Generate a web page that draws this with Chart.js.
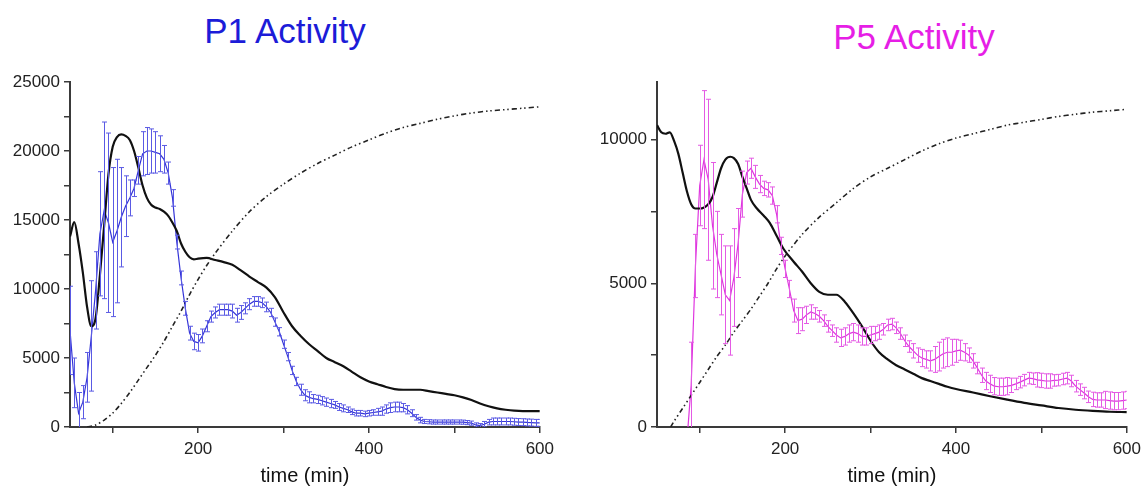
<!DOCTYPE html>
<html>
<head>
<meta charset="utf-8">
<script src="https://cdn.jsdelivr.net/npm/chart.js@4"></script>
<style>
  html, body { margin: 0; padding: 0; background: #fff; }
  body { width: 1147px; height: 488px; position: relative; overflow: hidden; font-family: "Liberation Sans", Arial, sans-serif; }
  .box { position: absolute; top: 0; height: 488px; }
  .title { position: absolute; font-size: 35px; line-height: 35px; white-space: nowrap; transform: translateX(-50%); }
</style>
</head>
<body>
<div class="title" style="left:285px; top:13px; color:#1c1cd8">P1 Activity</div>
<div class="title" style="left:914px; top:19px; color:#e61ee6">P5 Activity</div>
<div class="box" style="left:0; width:560px"><canvas id="p1"></canvas></div>
<div class="box" style="left:580px; width:567px"><canvas id="p5"></canvas></div>
<script>
// ---- tick values ----
const xTicks = [100, 200, 300, 400, 500, 600];
const xLabels = [200, 400, 600];
const p1YTicks = [0, 2500, 5000, 7500, 10000, 12500, 15000, 17500, 20000, 22500, 25000];
const p5YTicks = [0, 2500, 5000, 7500, 10000];
const yLabels = [0, 5000, 10000, 15000, 20000, 25000];

// ---- P1 panel data ----
const p1Time = [50,55,60,65,70,75,80,85,90,95,100,105,110,115,120,125,130,135,140,145,150,155,160,165,170,175,180,185,190,195,
  200,205,210,215,220,225,230,235,240,245,250,255,260,265,270,275,280,285,290,295,300,305,310,315,320,325,330,335,340,345,
  350,355,360,365,370,375,380,385,390,395,400,405,410,415,420,425,430,435,440,445,450,455,460,465,470,475,480,485,490,495,
  500,505,510,515,520,525,530,535,540,545,550,555,560,565,570,575,580,585,590,595,600];
const p1Mean = [7000,3200,1000,1800,3600,6600,9900,14000,15700,14800,13400,14200,15200,16000,16600,17300,18600,19800,20000,20000,19900,19800,19400,18400,16600,13400,10800,8600,6800,6200,
  6100,6600,7300,8000,8300,8500,8500,8500,8400,8100,8300,8600,8900,9100,9100,9000,8700,8300,7600,6900,6000,5100,4100,3300,2700,2300,2150,2050,2000,1900,
  1800,1700,1600,1450,1350,1250,1100,1000,1000,950,1000,1050,1100,1150,1300,1400,1450,1450,1400,1250,1000,700,500,400,380,360,360,360,360,360,
  360,360,350,320,280,150,100,200,350,400,400,400,400,400,380,360,350,330,320,300,300];
const p1Err = [3200,1800,1500,1200,1800,4000,2800,4500,6400,6500,5400,5200,3600,2200,1300,600,1000,1600,1700,1600,1500,1300,1000,800,600,500,500,500,500,600,
  600,500,400,400,400,400,400,400,500,500,500,400,400,350,350,350,350,300,300,300,300,300,300,300,400,400,400,300,300,300,
  300,300,250,250,250,200,200,200,200,200,200,200,250,300,300,350,350,350,300,300,250,200,200,150,150,150,150,150,150,150,
  150,150,150,150,150,150,150,200,200,250,250,250,250,250,250,250,250,250,250,250,250];
const p1ModelTime = [50,55,60,65,70,75,80,85,90,95,100,105,110,115,120,125,130,135,140,145,150,155,160,165,170,175,180,185,190,195,
  200,210,220,230,240,250,260,270,280,290,300,310,320,330,340,350,360,370,380,390,400,410,420,430,440,450,460,470,480,490,
  500,510,520,530,540,550,560,570,580,590,600];
const p1Model = [13800,14850,13300,11200,8700,7300,7900,11000,14600,18300,20300,21000,21200,21100,20800,20000,18800,17500,16600,16100,15900,15800,15600,15300,14800,14200,13300,12700,12300,12150,
  12200,12250,12100,11950,11750,11350,10900,10500,10100,9400,8300,7300,6600,6000,5500,5000,4700,4400,4000,3600,3300,3100,2900,2750,2700,2700,2700,2600,2500,2400,
  2300,2150,1950,1700,1500,1350,1250,1180,1150,1150,1150];
const p1CumTime = [70,80,90,100,110,120,130,140,150,160,170,180,190,200,210,220,240,260,280,300,320,340,360,380,400,420,440,460,480,500,520,540,560,580,600];
const p1Cum = [0,150,500,1000,1700,2500,3400,4300,5200,6200,7300,8400,9600,10700,11700,12600,14200,15600,16700,17600,18400,19100,19700,20300,20800,21300,21700,22000,22300,22550,22750,22900,23000,23100,23200];

// ---- P5 panel data ----
const p5Time = [85,90,95,100,105,110,115,120,125,130,135,140,145,150,155,160,165,170,175,180,185,190,195,
  200,205,210,215,220,225,230,235,240,245,250,255,260,265,270,275,280,285,290,295,300,305,310,315,320,325,330,335,340,345,
  350,355,360,365,370,375,380,385,390,395,400,405,410,415,420,425,430,435,440,445,450,455,460,465,470,475,480,485,490,495,
  500,505,510,515,520,525,530,535,540,545,550,555,560,565,570,575,580,585,590,595,600];
const p5Mean = [-500,1450,5600,8400,9300,8600,7000,6000,5300,4600,4400,5200,6400,8100,8850,9000,8700,8450,8300,8250,8050,7400,6300,
  5500,4800,4050,3700,3750,3900,4000,3950,3850,3700,3500,3350,3200,3100,3150,3250,3300,3250,3150,3150,3200,3250,3300,3400,3550,3580,3450,3250,3000,2800,
  2650,2500,2400,2350,2300,2350,2450,2550,2600,2600,2650,2670,2600,2500,2300,2050,1800,1600,1500,1420,1400,1400,1420,1450,1500,1560,1630,1700,1680,1640,
  1620,1600,1600,1620,1630,1670,1700,1600,1420,1300,1180,1050,960,940,940,940,920,900,900,920,940];
const p5Err = [400,1500,1100,1400,2400,2800,2200,1500,1400,1700,1900,1700,1200,800,400,350,400,300,250,250,300,300,300,
  300,300,400,450,400,300,250,200,200,200,200,200,250,300,300,300,300,300,300,300,300,250,250,200,200,200,200,200,200,200,
  250,250,300,300,350,450,500,500,500,450,400,350,300,250,250,200,250,300,300,300,300,300,300,250,200,200,200,200,200,250,
  250,250,250,200,200,200,200,200,200,200,200,200,250,250,250,300,300,300,300,300,300];
const p5ModelTime = [50,55,60,65,70,75,80,85,90,95,100,110,115,120,125,130,136,140,145,150,155,160,167,175,182,190,198,
  210,220,230,240,250,260,270,280,290,300,310,320,330,340,350,360,370,380,390,400,420,440,460,480,500,520,540,560,580,600];
const p5Model = [10500,10250,10200,10250,9950,9500,8850,8200,7750,7600,7600,7750,8000,8500,9000,9300,9400,9350,9150,8700,8300,7900,7600,7350,7100,6650,6200,
  5750,5400,5000,4700,4600,4600,4350,3950,3500,3000,2600,2350,2150,2000,1850,1700,1600,1500,1400,1320,1200,1070,950,840,750,660,600,560,530,520];
const p5CumTime = [66,70,80,90,100,110,120,130,140,150,160,170,180,190,200,220,240,260,280,300,320,340,360,380,400,420,440,460,480,500,520,540,560,580,600];
const p5Cum = [0,200,650,1100,1550,2000,2450,2850,3300,3700,4100,4550,5000,5500,5950,6700,7300,7800,8300,8700,9000,9300,9600,9850,10050,10200,10350,10500,10600,10700,10800,10880,10950,11000,11050];

const xy = (xs, ys) => xs.map((x, i) => ({ x: x, y: ys[i] }));

// error bars drawn through the chart's own scales
const errorBars = {
  id: "errorBars",
  afterDatasetsDraw(chart) {
    const { ctx, chartArea: a, scales: { x, y } } = chart;
    ctx.save();
    ctx.beginPath();
    ctx.rect(a.left, a.top, a.right - a.left, a.bottom - a.top);
    ctx.clip();
    chart.data.datasets.forEach((ds) => {
      if (!ds.errs) return;
      ctx.strokeStyle = ds.barColor;
      ctx.lineWidth = 1;
      ds.data.forEach((p, i) => {
        const e = ds.errs[i];
        const px = Math.round(x.getPixelForValue(p.x)) + 0.5;
        const y1 = y.getPixelForValue(p.y + e);
        const y2 = y.getPixelForValue(p.y - e);
        ctx.beginPath();
        ctx.moveTo(px, y1); ctx.lineTo(px, y2);
        ctx.moveTo(px - 2.5, y1); ctx.lineTo(px + 2.5, y1);
        ctx.moveTo(px - 2.5, y2); ctx.lineTo(px + 2.5, y2);
        ctx.stroke();
      });
    });
    ctx.restore();
  },
};

const setTicks = (vals) => (s) => { s.ticks = vals.map((v) => ({ value: v })); };

function panel(id, cfg) {
  const tickFont = { family: "'Liberation Sans', Arial, sans-serif", size: 17 };
  new Chart(document.getElementById(id), {
    type: "line",
    data: { datasets: [
      { data: xy(cfg.cumT, cfg.cum), borderColor: "#222", borderWidth: 1.6,
        borderDash: [5, 3, 1.5, 3, 1.5, 3], pointRadius: 0, tension: 0.3 },
      { data: xy(cfg.modelT, cfg.model), borderColor: "#111", borderWidth: 2.2,
        pointRadius: 0, cubicInterpolationMode: "monotone" },
      { data: xy(cfg.t, cfg.mean), errs: cfg.err, borderColor: cfg.color, barColor: cfg.barColor,
        borderWidth: 1.2, pointRadius: 0, tension: 0 },
    ]},
    options: {
      responsive: true,
      maintainAspectRatio: false,
      animation: false,
      events: [],
      layout: { padding: { top: 82, right: cfg.padRight, left: 0, bottom: 0 } },
      plugins: { legend: { display: false }, tooltip: { enabled: false } },
      scales: {
        x: {
          type: "linear", min: 50, max: 600,
          afterFit: (s) => { s.height = 61; },
          afterBuildTicks: setTicks(xTicks),
          border: { display: true, color: "#3a3a3a", width: 2 },
          grid: { drawOnChartArea: false, drawTicks: true, tickLength: 6, color: "#3a3a3a", lineWidth: 1.5 },
          ticks: { padding: 6, color: "#222", font: tickFont, maxRotation: 0, autoSkip: false,
                   callback: (v) => (xLabels.includes(v) ? String(v) : "") },
          title: { display: true, text: "time (min)", color: "#111", padding: { top: 0, bottom: 0 },
                   font: { family: "'Liberation Sans', Arial, sans-serif", size: 20 } },
        },
        y: {
          min: 0, max: cfg.ymax,
          afterFit: (s) => { s.width = cfg.yWidth; },
          afterBuildTicks: setTicks(cfg.yTicks),
          border: { display: true, color: "#3a3a3a", width: 2 },
          grid: { drawOnChartArea: false, drawTicks: true, tickLength: 6, color: "#3a3a3a", lineWidth: 1.5 },
          ticks: { padding: 4, color: "#222", font: tickFont, autoSkip: false,
                   callback: (v) => (yLabels.includes(v) ? String(v) : "") },
        },
      },
    },
    plugins: [errorBars],
  });
}

panel("p1", { t: p1Time, mean: p1Mean, err: p1Err, modelT: p1ModelTime, model: p1Model,
  cumT: p1CumTime, cum: p1Cum, color: "#3535d8", barColor: "#5a5ae4", ymax: 25000, yTicks: p1YTicks, yWidth: 70, padRight: 19 });
panel("p5", { t: p5Time, mean: p5Mean, err: p5Err, modelT: p5ModelTime, model: p5Model,
  cumT: p5CumTime, cum: p5Cum, color: "#df35df", barColor: "#e45ae4", ymax: 12000, yTicks: p5YTicks, yWidth: 77, padRight: 20 });
</script>
</body>
</html>
